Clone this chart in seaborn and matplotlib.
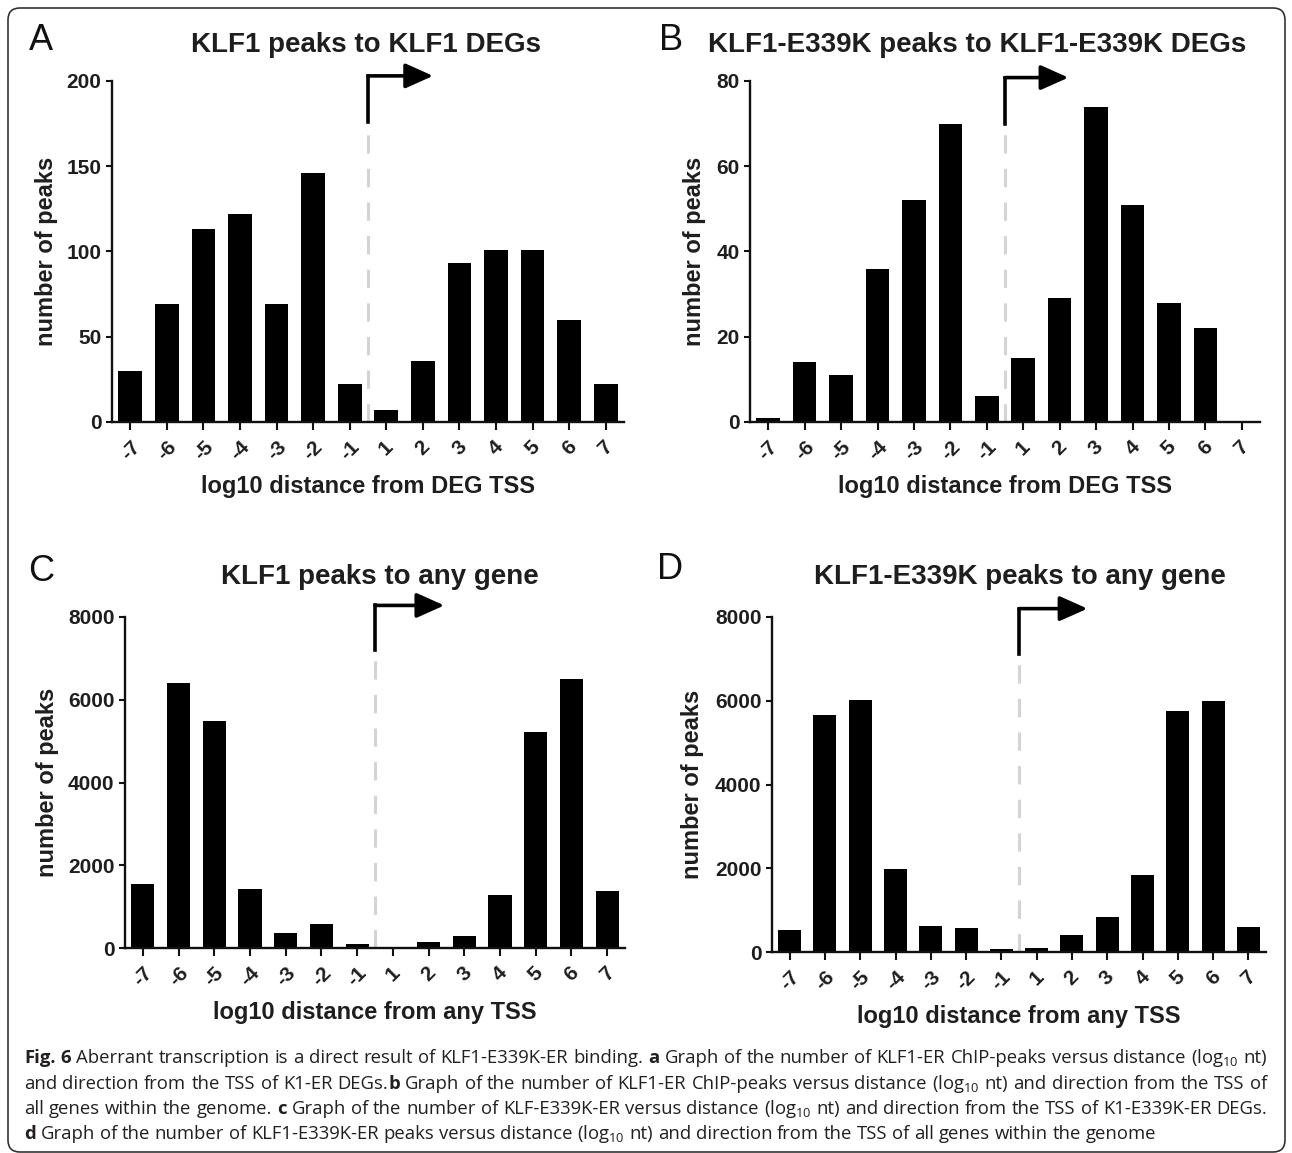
import numpy as np
import pandas as pd
import matplotlib
matplotlib.use("Agg")
import matplotlib.pyplot as plt
import seaborn as sns
from matplotlib.patches import FancyBboxPatch

# ---------------- data ----------------
categories = ["-7", "-6", "-5", "-4", "-3", "-2", "-1", "1", "2", "3", "4", "5", "6", "7"]
klf1_deg = [30, 69, 113, 122, 69, 146, 22, 7, 36, 93, 101, 101, 60, 22]
e339k_deg = [1, 14, 11, 36, 52, 70, 6, 15, 29, 74, 51, 28, 22, 0]
klf1_any = [1545, 6395, 5485, 1430, 365, 580, 85, 30, 145, 300, 1270, 5225, 6495, 1375]
e339k_any = [515, 5665, 6025, 1990, 630, 565, 75, 95, 415, 845, 1830, 5750, 5985, 595]

panel_letters = ["A", "B", "C", "D"]
titles = ["KLF1 peaks to KLF1 DEGs", "KLF1-E339K peaks to KLF1-E339K DEGs",
          "KLF1 peaks to any gene", "KLF1-E339K peaks to any gene"]
xlabels = ["log10 distance from DEG TSS", "log10 distance from DEG TSS",
           "log10 distance from any TSS", "log10 distance from any TSS"]
ylabel = "number of peaks"
y_max = [200, 80, 8000, 8000]
y_step = [50, 20, 2000, 2000]

caption_lines = [
    "**Fig. 6** Aberrant transcription is a direct result of KLF1-E339K-ER binding. **a** Graph of the number of KLF1-ER ChIP-peaks versus distance (log$_{10}$ nt)",
    "and direction from the TSS of K1-ER DEGs.**b** Graph of the number of KLF1-ER ChIP-peaks versus distance (log$_{10}$ nt) and direction from the TSS of",
    "all genes within the genome. **c** Graph of the number of KLF-E339K-ER versus distance (log$_{10}$ nt) and direction from the TSS of K1-E339K-ER DEGs.",
    "**d** Graph of the number of KLF1-E339K-ER peaks versus distance (log$_{10}$ nt) and direction from the TSS of all genes within the genome",
]

# ---------------- layout (pixels) ----------------
W, H = 1292, 1153
axis_rects_px = [(112, 81, 624, 422), (750, 81, 1260, 422),
                 (125, 617, 625, 948), (772, 617, 1266, 952)]
title_pos = [(366, 45), (977, 45), (380, 577), (1020, 577)]
letter_pos = [(41, 40), (671, 40), (41, 572), (670, 570)]
ylabel_x = [47, 694, 47, 693]
tss_dash_top_frac = [0.88, 0.875, 0.9, 0.89]
tss_arrow_top_frac = [1.015, 1.01, 1.035, 1.025]
tss_arrow_len = [1.78, 1.74, 1.94, 1.94]

sns.set_style("ticks")
plt.rcParams["font.family"] = ["Liberation Sans", "DejaVu Sans"]
plt.rcParams.update({
    "mathtext.fontset": "custom",
    "mathtext.rm": "Open Sans",
    "mathtext.it": "Open Sans:italic",
    "mathtext.bf": "Open Sans:bold",
})

TXT = "#1e1e1e"
fig = plt.figure(figsize=(W / 100, H / 100), dpi=100)


def fx(x):
    return x / W


def fy(y):
    return 1 - y / H


datasets = [klf1_deg, e339k_deg, klf1_any, e339k_any]
for i, vals in enumerate(datasets):
    l, t, r, b = axis_rects_px[i]
    ax = fig.add_axes([fx(l), fy(b), (r - l) / W, (b - t) / H])
    df = pd.DataFrame({"distance": categories, "peaks": vals})
    sns.barplot(data=df, x="distance", y="peaks", order=categories, color="black",
                saturation=1, width=0.65, linewidth=0, ax=ax)
    ax.set_xlim(-0.5, len(categories) - 0.5)
    ax.set_ylim(0, y_max[i])
    ax.set_yticks(np.arange(0, y_max[i] + 1, y_step[i]))
    sns.despine(ax=ax)
    for s in ("left", "bottom"):
        ax.spines[s].set_linewidth(1.7)
        ax.spines[s].set_color("#111111")
    ax.tick_params(axis="y", direction="out", length=4.5, width=1.5, pad=3,
                   labelsize=15, colors="#111111")
    ax.tick_params(axis="x", direction="out", length=6, width=1.5, pad=5,
                   labelsize=15, colors="#111111")
    for lab in ax.get_yticklabels() + ax.get_xticklabels():
        lab.set_fontweight("bold")
        lab.set_color(TXT)
    for lab in ax.get_xticklabels():
        lab.set_rotation(45)
        lab.set_ha("center")
    ax.set_xlabel(xlabels[i], fontsize=17, fontweight="bold", color=TXT)
    ax.xaxis.set_label_coords(0.5, -65 / (b - t))
    ax.xaxis.label.set_va("center")
    ax.set_ylabel(ylabel, fontsize=17, fontweight="bold", color=TXT)
    ax.yaxis.set_label_coords((ylabel_x[i] - l) / (r - l), 0.5)
    ax.yaxis.label.set_va("center")

    # TSS marker
    tss_x = (len(categories) - 1) / 2
    dash_top = tss_dash_top_frac[i] * y_max[i]
    arrow_top = tss_arrow_top_frac[i] * y_max[i]
    ax.plot([tss_x, tss_x], [0, dash_top], color="#d4d4d4", lw=2.2,
            ls=(0, (6, 5)), clip_on=False, zorder=1)
    ax.plot([tss_x, tss_x], [dash_top, arrow_top], color="black", lw=2.6,
            clip_on=False, solid_capstyle="projecting", solid_joinstyle="miter")
    ax.annotate("", xy=(tss_x + tss_arrow_len[i], arrow_top), xytext=(tss_x, arrow_top),
                arrowprops=dict(arrowstyle="-|>,head_length=0.85,head_width=0.38",
                                color="black", lw=2.6, mutation_scale=20,
                                shrinkA=0, shrinkB=0),
                annotation_clip=False)

    fig.text(fx(title_pos[i][0]), fy(title_pos[i][1]), titles[i], ha="center",
             va="center", fontsize=20, fontweight="bold", color=TXT)
    fig.text(fx(letter_pos[i][0]), fy(letter_pos[i][1]), panel_letters[i], ha="center",
             va="center", fontsize=26, color="#111111")

# ---------------- caption (justified) ----------------
cap_font = ["Open Sans", "DejaVu Sans"]
cap_left, cap_right = 24, 1267
last_line_right = 1168
cap_baselines = [1063, 1089, 1114, 1139]


def parse(line):
    parts = line.split("**")
    words, cur = [], []
    for k, part in enumerate(parts):
        bold = k % 2 == 1
        toks = part.split(" ")
        for j, tok in enumerate(toks):
            if j > 0 and cur:
                words.append(cur)
                cur = []
            if tok:
                cur.append((tok, bold))
    if cur:
        words.append(cur)
    return words


renderer = fig.canvas.get_renderer()


def piece_width(txt, bold, size):
    tt = fig.text(0, 0, txt, fontsize=size, family=cap_font,
                  fontweight="bold" if bold else "normal")
    w = tt.get_window_extent(renderer).width
    tt.remove()
    return w


def natural_width(words, size):
    sp = piece_width("a a", False, size) - piece_width("aa", False, size)
    tot = sum(piece_width(p, bo, size) for wd in words for p, bo in wd)
    return tot + sp * (len(words) - 1)


parsed = [parse(ln) for ln in caption_lines]
base = 10.0
ratio_full = min((cap_right - cap_left) / natural_width(parsed[k], base) for k in range(3))
ratio_last = (last_line_right - cap_left) / natural_width(parsed[3], base)
cap_size = base * min(ratio_full * 0.995, ratio_last)
space_w = piece_width("a a", False, cap_size) - piece_width("aa", False, cap_size)

for li, words in enumerate(parsed):
    widths = [[piece_width(p, bo, cap_size) for p, bo in wd] for wd in words]
    total = sum(sum(w) for w in widths)
    if li < len(parsed) - 1 and len(words) > 1:
        gap = (cap_right - cap_left - total) / (len(words) - 1)
    else:
        gap = space_w
    x = cap_left
    for wd, ws in zip(words, widths):
        for (p, bo), w in zip(wd, ws):
            fig.text(fx(x), fy(cap_baselines[li]), p, fontsize=cap_size, family=cap_font,
                     fontweight="bold" if bo else "normal", va="baseline", ha="left",
                     color="#231f20")
            x += w
        x += gap

# border
fig.patches.append(FancyBboxPatch((8 / 100, 1 / 100), (1285 - 8) / 100, (1145 - 1) / 100,
                                  boxstyle="round,pad=0,rounding_size=0.12",
                                  transform=fig.dpi_scale_trans, fill=False,
                                  edgecolor="#333333", linewidth=1.2))

fig.savefig("out.png", dpi=100)
